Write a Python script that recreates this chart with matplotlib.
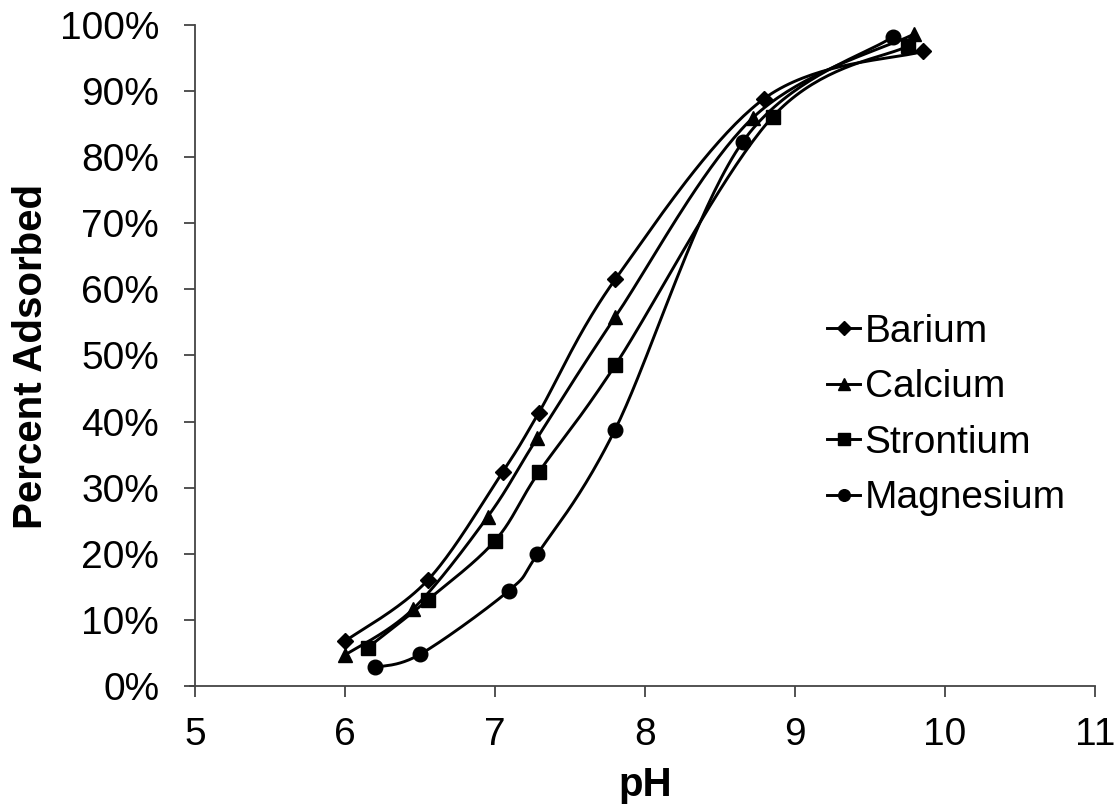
import numpy as np
import matplotlib
matplotlib.use("Agg")
import matplotlib.pyplot as plt
from matplotlib.ticker import FuncFormatter

plt.rcParams['font.family'] = ['Liberation Sans', 'DejaVu Sans']

# Data
barium_ph = [6.0, 6.55, 7.05, 7.29, 7.8, 8.79, 9.85]
barium_pct = [6.8, 16.0, 32.4, 41.3, 61.5, 88.8, 96.0]
calcium_ph = [6.0, 6.45, 6.95, 7.28, 7.8, 8.72, 9.79]
calcium_pct = [4.7, 11.6, 25.6, 37.5, 55.8, 86.0, 98.6]
strontium_ph = [6.15, 6.55, 7.0, 7.29, 7.8, 8.85, 9.75]
strontium_pct = [5.8, 13.0, 22.0, 32.3, 48.5, 86.1, 96.8]
magnesium_ph = [6.2, 6.5, 7.09, 7.28, 7.8, 8.65, 9.65]
magnesium_pct = [2.8, 4.8, 14.4, 19.9, 38.8, 82.3, 98.2]

series = [
    ("Barium", barium_ph, barium_pct, 'D', 8.5),
    ("Calcium", calcium_ph, calcium_pct, '^', 10),
    ("Strontium", strontium_ph, strontium_pct, 's', 10.5),
    ("Magnesium", magnesium_ph, magnesium_pct, 'o', 10.5),
]


def smooth(xs, ys, sx=150.0, sy=6.58, n=40):
    """Excel-like smoothed line: Catmull-Rom Bezier in screen-scaled space."""
    P = np.column_stack([np.asarray(xs) * sx, np.asarray(ys) * sy])
    pts = np.vstack([P[0], P, P[-1]])
    out = []
    t = np.linspace(0, 1, n)[:, None]
    for i in range(1, len(pts) - 2):
        p0, p1, p2, p3 = pts[i - 1], pts[i], pts[i + 1], pts[i + 2]
        c1 = p1 + (p2 - p0) / 6.0
        c2 = p2 - (p3 - p1) / 6.0
        seg = ((1 - t) ** 3) * p1 + 3 * ((1 - t) ** 2) * t * c1 + 3 * (1 - t) * t ** 2 * c2 + t ** 3 * p2
        out.append(seg if i == 1 else seg[1:])
    out = np.vstack(out)
    return out[:, 0] / sx, out[:, 1] / sy


fig = plt.figure(figsize=(11.17, 8.10), dpi=100)
ax = fig.add_axes([190 / 1117, 1 - 686 / 810, (1095 - 190) / 1117, (686 - 25) / 810])

for name, xs, ys, m, ms in series:
    sx_, sy_ = smooth(xs, ys)
    ax.plot(sx_, np.array(sy_) / 100, color='black', lw=2.1, solid_capstyle='round')
    ax.plot(np.array(xs), np.array(ys) / 100, linestyle='none', marker=m,
            markersize=ms, color='black')

# legend proxies
handles = []
for name, xs, ys, m, ms in series:
    h, = ax.plot([], [], color='black', lw=2.1, marker=m, markersize=ms * 0.8, label=name)
    handles.append(h)

ax.set_xlim(4.965, 11)
ax.set_ylim(0, 1.0)
ax.spines['left'].set_position(('data', 5))
ax.spines['top'].set_visible(False)
ax.spines['right'].set_visible(False)
for s in ['left', 'bottom']:
    ax.spines[s].set_color('#444444')
    ax.spines[s].set_linewidth(1.3)
ax.set_xticks([5, 6, 7, 8, 9, 10, 11])
ax.set_yticks(np.arange(0, 1.01, 0.1))
ax.yaxis.set_major_formatter(FuncFormatter(lambda v, p: f"{v * 100:.0f}%"))
ax.tick_params(axis='both', direction='out', length=8, width=1.3, color='#444444',
               labelsize=28, labelcolor='black')
ax.tick_params(axis='x', pad=14)
ax.tick_params(axis='y', pad=18)
for line in ax.lines:
    line.set_clip_on(False)

fig.text(645 / 1117, 1 - 785 / 810, "pH", ha='center', va='center', fontsize=29, fontweight='bold')
fig.text(31 / 1117, 1 - 356 / 810, "Percent Adsorbed", ha='center', va='center', rotation=90,
         fontsize=29, fontweight='bold')

leg = ax.legend(handles=handles, loc='center left', bbox_to_anchor=(827 / 1117, 1 - 415 / 810),
                bbox_transform=fig.transFigure, frameon=False, fontsize=28, handlelength=0.85,
                handletextpad=0.12, labelspacing=0.5, borderpad=0, borderaxespad=0)

fig.savefig("out.png", dpi=100)
